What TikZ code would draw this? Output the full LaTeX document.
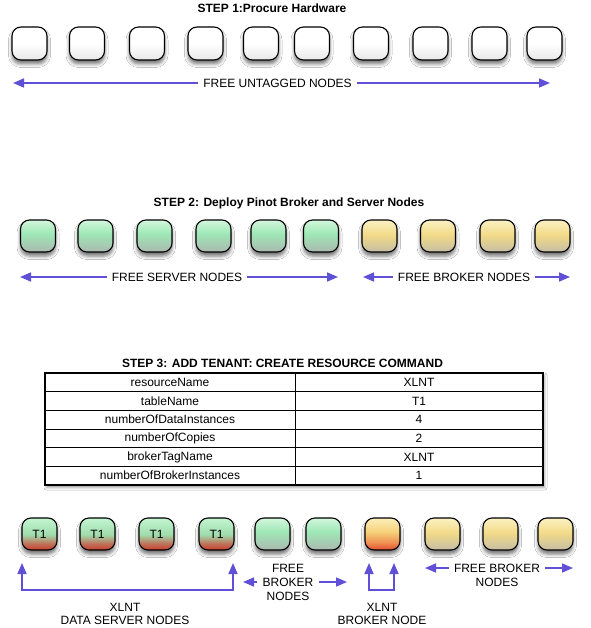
\documentclass[tikz,border=0pt]{standalone}
\usepackage{fontspec}
\setmainfont{Liberation Sans}
\usetikzlibrary{arrows.meta,shadows.blur}
\definecolor{arr}{RGB}{95,80,215}
\definecolor{srvTop}{RGB}{212,247,222}
\definecolor{srvMid}{RGB}{158,232,182}
\definecolor{srvBot}{RGB}{172,184,176}
\definecolor{brkTop}{RGB}{251,242,195}
\definecolor{brkMid}{RGB}{242,218,135}
\definecolor{brkBot}{RGB}{198,190,165}
\definecolor{tTop}{RGB}{195,246,210}
\definecolor{tMid}{RGB}{160,220,172}
\definecolor{tLow}{RGB}{190,120,95}
\definecolor{tBot}{RGB}{200,60,45}
\definecolor{xTop}{RGB}{252,240,185}
\definecolor{xMid}{RGB}{245,208,120}
\definecolor{xLow}{RGB}{240,150,85}
\definecolor{xBot}{RGB}{228,78,48}
\definecolor{wBot}{RGB}{232,232,232}
\pgfdeclareverticalshading{srvshade}{100bp}{color(0bp)=(srvBot); color(25bp)=(srvBot); color(54bp)=(srvMid); color(75bp)=(srvTop); color(100bp)=(srvTop)}
\pgfdeclareverticalshading{brkshade}{100bp}{color(0bp)=(brkBot); color(25bp)=(brkBot); color(52bp)=(brkMid); color(75bp)=(brkTop); color(100bp)=(brkTop)}
\pgfdeclareverticalshading{tshade}{100bp}{color(0bp)=(tBot); color(25bp)=(tBot); color(36bp)=(tLow); color(49bp)=(tMid); color(75bp)=(tTop); color(100bp)=(tTop)}
\pgfdeclareverticalshading{xshade}{100bp}{color(0bp)=(xBot); color(25bp)=(xBot); color(38bp)=(xLow); color(53bp)=(xMid); color(75bp)=(xTop); color(100bp)=(xTop)}
\pgfdeclareverticalshading{wshade}{100bp}{color(0bp)=(wBot); color(25bp)=(wBot); color(50bp)=(white); color(100bp)=(white)}
\tikzset{
  hwbox/.style={draw=black, line width=1.1pt, rounded corners=9pt,
    minimum width=35pt, minimum height=32pt, inner sep=0pt,
    blur shadow={shadow xshift=0pt, shadow yshift=-4pt, shadow blur radius=3.5pt, shadow opacity=55},
    font=\fontsize{12}{14}\selectfont},
  plainfill/.style={shading=wshade},
  srvfill/.style={shading=srvshade},
  brkfill/.style={shading=brkshade},
  tfill/.style={shading=tshade},
  xfill/.style={shading=xshade},
  lbl/.style={inner sep=0pt, font=\fontsize{12}{13}\selectfont, align=center},
  ttl/.style={inner sep=0pt, font=\bfseries\fontsize{12}{14}\selectfont},
  cell/.style={inner sep=0pt, font=\fontsize{12}{14}\selectfont},
  arrline/.style={draw=arr, line width=1.6pt, -{Triangle[length=11pt,width=9pt]}},
  bracket/.style={draw=arr, line width=1.6pt, {Triangle[length=11pt,width=9pt]}-{Triangle[length=11pt,width=9pt]}},
  tablebox/.style={draw=black, line width=1.1pt, fill=white, inner sep=0pt,
    blur shadow={shadow xshift=1.5pt, shadow yshift=-2.5pt, shadow blur radius=2.5pt}},
}
\begin{document}
\begin{tikzpicture}[x=1pt,y=-1pt]
\useasboundingbox[fill=white] (0,0) rectangle (590,628);

% ---------- STEP 1 ----------
\node[ttl] (s1) at (272,8) {STEP 1:Procure Hardware};
\foreach \i/\x in {1/29.5,2/87,3/147,4/205.5,5/261,6/312,7/371,8/430.5,9/489.5,10/544.5}
  \node[hwbox,plainfill,minimum height=33pt] (a\i) at (\x,43.5) {};
\node[lbl] (untag) at (277.5,83) {FREE UNTAGGED NODES};
\coordinate (untagL) at (13,83);
\coordinate (untagR) at (550,83);
\draw[arrline] ([xshift=-5pt]untag.west) -- (untagL);
\draw[arrline] ([xshift=5pt]untag.east) -- (untagR);

% ---------- STEP 2 ----------
\node[ttl] (s2) at (289,203) {STEP 2: Deploy Pinot Broker and Server Nodes};
\foreach \i/\x in {1/38,2/95.5,3/154.5,4/213.5,5/268.5,6/321}
  \node[hwbox,srvfill] (b\i) at (\x,236) {};
\foreach \i/\x in {7/379.5,8/438,9/497.5,10/552.5}
  \node[hwbox,brkfill] (b\i) at (\x,236) {};
\node[lbl] (fsn) at (177,277) {FREE SERVER NODES};
\coordinate (fsnL) at (20,277);
\coordinate (fsnR) at (338,277);
\draw[arrline] ([xshift=-5pt]fsn.west) -- (fsnL);
\draw[arrline] ([xshift=5pt]fsn.east) -- (fsnR);
\node[lbl] (fbn) at (464,277) {FREE BROKER NODES};
\coordinate (fbnL) at (363,277);
\coordinate (fbnR) at (570,277);
\draw[arrline] ([xshift=-5pt]fbn.west) -- (fbnL);
\draw[arrline] ([xshift=5pt]fbn.east) -- (fbnR);

% ---------- STEP 3 ----------
\node[ttl] (s3) at (282.5,363) {STEP 3: ADD TENANT: CREATE RESOURCE COMMAND};
\node[tablebox, minimum width=498pt, minimum height=112pt] (tbl) at (294,429) {};
\foreach \k in {1,...,5}
  \draw[line width=1pt] (45,373+18.667*\k) -- (543,373+18.667*\k);
\draw[line width=1pt] (tbl.north -| 295,0) -- (tbl.south -| 295,0);
\foreach \k/\l/\r in {0/resourceName/XLNT,1/tableName/T1,2/numberOfDataInstances/4,
                      3/numberOfCopies/2,4/brokerTagName/XLNT,5/numberOfBrokerInstances/1}{
  \node[cell] (l\k) at (170,382.3+18.667*\k) {\l};
  \node[cell] (r\k) at (419,382.3+18.667*\k) {\r};
}

\foreach \i/\x in {1/39.5,2/97.5,3/156.5,4/216.5}
  \node[hwbox,tfill] (c\i) at (\x,534) {T1};
\foreach \i/\x in {5/272.5,6/323.5}
  \node[hwbox,srvfill] (c\i) at (\x,534) {};
\node[hwbox,xfill] (c7) at (382.5,534) {};
\foreach \i/\x in {8/442.5,9/500.5,10/555.5}
  \node[hwbox,brkfill] (c\i) at (\x,534) {};

% data server bracket
\coordinate (dA) at (22,563);
\coordinate (dB) at (233,563);
\coordinate (dBase) at (127,590);
\draw[bracket] (dA) |- (dBase) -| (dB);
\node[lbl] (dsn) at (125,613.5) {XLNT\\DATA SERVER NODES};

% free broker nodes (middle)
\node[lbl, font=\fontsize{12}{14}\selectfont] (mfb) at (288,582) {FREE\\BROKER\\NODES};
\coordinate (mfbL) at (243,582);
\coordinate (mfbR) at (347,582);
\draw[arrline] ([xshift=-5pt]mfb.west) -- (mfbL);
\draw[arrline] ([xshift=5pt]mfb.east) -- (mfbR);

% broker bracket
\coordinate (bA) at (369,563);
\coordinate (bB) at (394,563);
\coordinate (bBase) at (381.5,590);
\draw[bracket] (bA) |- (bBase) -| (bB);
\node[lbl] (xbn) at (382,613.5) {XLNT\\BROKER NODE};

% free broker nodes (right)
\node[lbl] (rfb1) at (497,568) {FREE BROKER};
\node[lbl] (rfb2) at (497,582) {NODES};
\coordinate (rfbL) at (425,568);
\coordinate (rfbR) at (573,568);
\draw[arrline] ([xshift=-5pt]rfb1.west) -- (rfbL);
\draw[arrline] ([xshift=5pt]rfb1.east) -- (rfbR);
\end{tikzpicture}
\end{document}
